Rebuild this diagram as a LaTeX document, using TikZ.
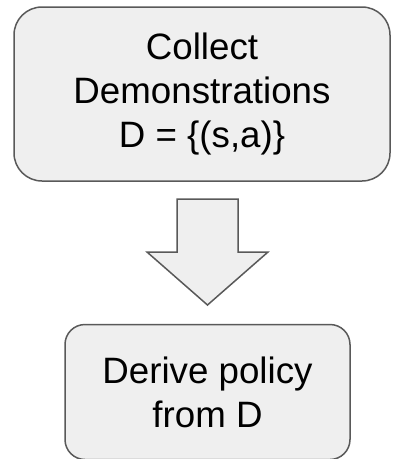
\documentclass[tikz,border=0pt]{standalone}
\usepackage{fontspec}
\setmainfont{Liberation Sans}
\usetikzlibrary{positioning}

\definecolor{boxfill}{HTML}{EFEFEF}
\definecolor{boxline}{HTML}{595959}

\begin{document}
\begin{tikzpicture}[x=1pt, y=-1pt,
    stagebox/.style={draw=boxline, fill=boxfill, line width=1.5pt, align=center,
                     inner sep=0pt, font=\fontsize{36.7}{44}\selectfont},
    blockarrow/.style={draw=boxline, fill=boxfill, line width=1.5pt}]
  \useasboundingbox (0,0) rectangle (392,459);

  % First step
  \node[stagebox, rounded corners=28pt, minimum width=376pt, minimum height=174pt]
    (collect) at (202,94) {Collect\\Demonstrations\\D = \{(s,a)\}};

  % Second step
  \node[stagebox, rounded corners=20pt, minimum width=285pt, minimum height=135pt,
        below=142pt of collect, xshift=5.5pt] (derive) {Derive policy\\from D};

  % Block arrow between the steps
  \draw[blockarrow] (177,199) -- (238,199) -- (238,252) -- (268,252)
    -- (207.5,305) -- (147,252) -- (177,252) -- cycle;
\end{tikzpicture}
\end{document}
